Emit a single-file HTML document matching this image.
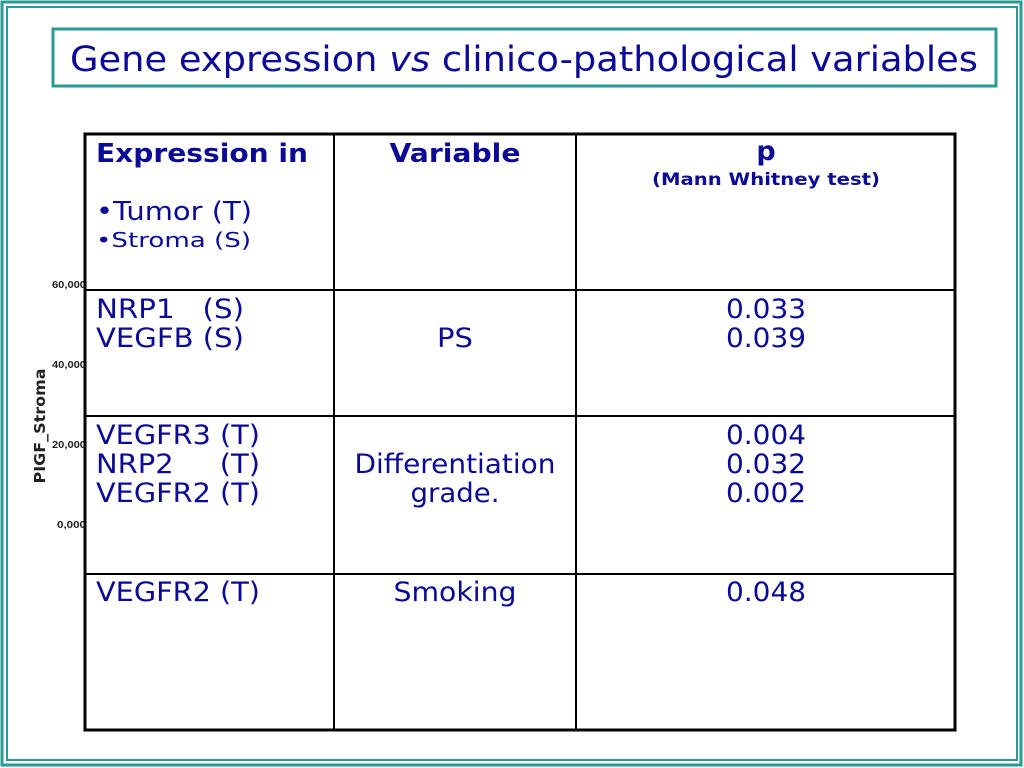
<!DOCTYPE html>
<html><head><meta charset="utf-8"><style>
html,body{margin:0;padding:0;background:#fff;}
svg{display:block;}
text{font-family:"DejaVu Sans","Liberation Sans",sans-serif;fill:#0a0a96;}
.b{font-weight:bold;}
.ax{font-family:"Liberation Sans",sans-serif;fill:#222;font-size:10px;font-weight:bold;}
</style></head><body>
<svg width="1024" height="768" viewBox="0 0 1024 768">
<g fill="none" stroke="#2a9a94">
<rect x="2" y="2" width="1019" height="763" stroke-width="3"/>
<rect x="7" y="7" width="1010" height="753" stroke-width="2"/>
</g>
<g>
<rect x="53" y="29" width="943" height="57" fill="#fff" stroke="#2a9a94" stroke-width="3"/>
<text x="70" y="71" font-size="35" textLength="908" lengthAdjust="spacingAndGlyphs">Gene expression <tspan font-style="italic">vs</tspan> clinico-pathological variables</text>
</g>
<g>
<text class="ax" x="52" y="288" textLength="34" lengthAdjust="spacingAndGlyphs">60,000</text>
<text class="ax" x="52" y="368" textLength="34" lengthAdjust="spacingAndGlyphs">40,000</text>
<text class="ax" x="52" y="448" textLength="34" lengthAdjust="spacingAndGlyphs">20,000</text>
<text class="ax" x="57" y="528" textLength="29" lengthAdjust="spacingAndGlyphs">0,000</text>
<text transform="translate(45,426) rotate(-90)" text-anchor="middle" font-family="Liberation Sans,sans-serif" font-weight="bold" font-size="15" textLength="115" lengthAdjust="spacingAndGlyphs" style="fill:#222">PIGF_Stroma</text>
</g>
<g>
<rect x="85" y="134" width="870" height="596" fill="#fff" stroke="#000" stroke-width="3"/>
<g stroke="#000" stroke-width="2">
<line x1="334" y1="134" x2="334" y2="730"/>
<line x1="576" y1="134" x2="576" y2="730"/>
<line x1="85" y1="290" x2="955" y2="290"/>
<line x1="85" y1="416" x2="955" y2="416"/>
<line x1="85" y1="574" x2="955" y2="574"/>
</g>
<g>
<text class="b" x="96" y="162" font-size="26" textLength="212" lengthAdjust="spacingAndGlyphs">Expression in</text>
<text x="96" y="220" font-size="26" textLength="156" lengthAdjust="spacingAndGlyphs">•Tumor (T)</text>
<text x="96" y="247" font-size="20" textLength="155" lengthAdjust="spacingAndGlyphs">•Stroma (S)</text>
<text class="b" x="455" y="162" font-size="26" text-anchor="middle" textLength="131" lengthAdjust="spacingAndGlyphs">Variable</text>
<text class="b" x="766" y="160" font-size="27" text-anchor="middle">p</text>
<text class="b" x="766" y="185" font-size="17" text-anchor="middle" textLength="228" lengthAdjust="spacingAndGlyphs">(Mann Whitney test)</text>
</g>
<g font-size="27">
<text x="96" y="318" xml:space="preserve" textLength="148" lengthAdjust="spacingAndGlyphs">NRP1   (S)</text>
<text x="96" y="347" textLength="148" lengthAdjust="spacingAndGlyphs">VEGFB (S)</text>
<text x="455" y="347" text-anchor="middle" textLength="36" lengthAdjust="spacingAndGlyphs">PS</text>
<text x="766" y="318" text-anchor="middle" textLength="80" lengthAdjust="spacingAndGlyphs">0.033</text>
<text x="766" y="347" text-anchor="middle" textLength="80" lengthAdjust="spacingAndGlyphs">0.039</text>
</g>
<g font-size="27">
<text x="96" y="444" textLength="164" lengthAdjust="spacingAndGlyphs">VEGFR3 (T)</text>
<text x="96" y="473" xml:space="preserve" textLength="164" lengthAdjust="spacingAndGlyphs">NRP2     (T)</text>
<text x="96" y="502" textLength="164" lengthAdjust="spacingAndGlyphs">VEGFR2 (T)</text>
<text x="455" y="473" text-anchor="middle" textLength="201" lengthAdjust="spacingAndGlyphs">Differentiation</text>
<text x="455" y="502" text-anchor="middle" textLength="89" lengthAdjust="spacingAndGlyphs">grade.</text>
<text x="766" y="444" text-anchor="middle" textLength="80" lengthAdjust="spacingAndGlyphs">0.004</text>
<text x="766" y="473" text-anchor="middle" textLength="80" lengthAdjust="spacingAndGlyphs">0.032</text>
<text x="766" y="502" text-anchor="middle" textLength="80" lengthAdjust="spacingAndGlyphs">0.002</text>
</g>
<g font-size="27">
<text x="96" y="601" textLength="164" lengthAdjust="spacingAndGlyphs">VEGFR2 (T)</text>
<text x="455" y="601" text-anchor="middle" textLength="123" lengthAdjust="spacingAndGlyphs">Smoking</text>
<text x="766" y="601" text-anchor="middle" textLength="80" lengthAdjust="spacingAndGlyphs">0.048</text>
</g>
</g>
</svg>
</body></html>
